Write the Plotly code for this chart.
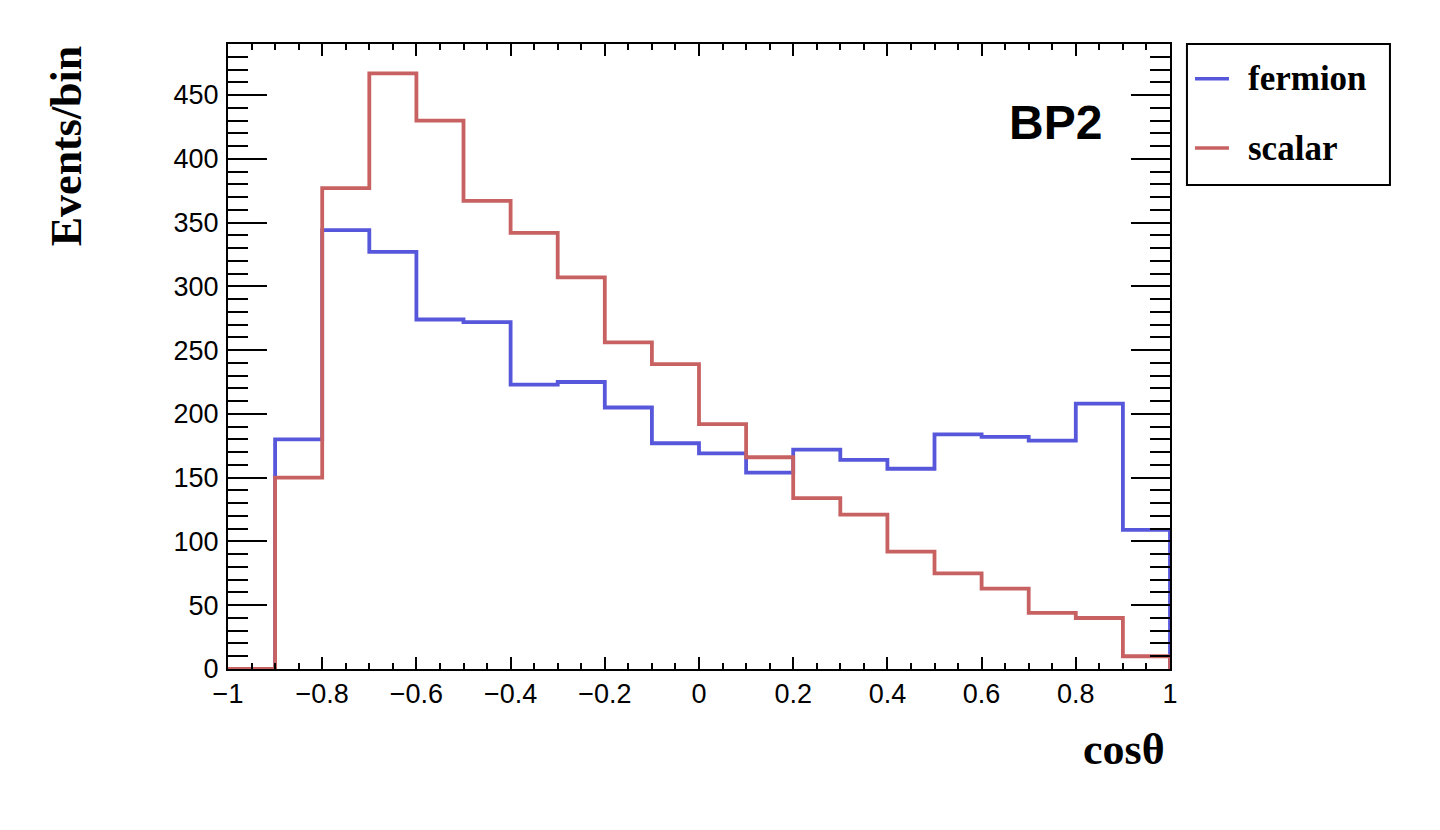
import plotly.graph_objects as go

bin_edges = [-1.0, -0.9, -0.8, -0.7, -0.6, -0.5, -0.4, -0.3, -0.2, -0.1, 0.0,
             0.1, 0.2, 0.3, 0.4, 0.5, 0.6, 0.7, 0.8, 0.9, 1.0]
fermion = [0, 180, 344, 327, 274, 272, 223, 225, 205, 177, 169,
           154, 172, 164, 157, 184, 182, 179, 208, 109]
scalar = [0, 150, 377, 467, 430, 367, 342, 307, 256, 239, 192,
          166, 134, 121, 92, 75, 63, 44, 40, 10]
series_names = ["fermion", "scalar"]
series_colors = ["#5757dc", "#c86262"]
label_text = "BP2"
x_title = "cosθ"
y_title = "Events/bin"


def step_outline(edges, vals):
    xs, ys = [edges[0]], [0]
    for i, v in enumerate(vals):
        xs += [edges[i], edges[i + 1]]
        ys += [v, v]
    xs.append(edges[-1])
    ys.append(0)
    return xs, ys


fig = go.Figure()
for name, vals, col in zip(series_names, [fermion, scalar], series_colors):
    xs, ys = step_outline(bin_edges, vals)
    fig.add_trace(go.Scatter(x=xs, y=ys, mode="lines", name=name,
                             line=dict(color=col, width=3.8),
                             showlegend=False, hoverinfo="skip"))

tick_font = dict(family="Liberation Sans, Arial, sans-serif", size=27, color="black")
serif_bold = "Liberation Serif, Times New Roman, serif"

fig.update_layout(
    width=1440, height=830,
    margin=dict(l=220, r=278, t=36, b=169),
    paper_bgcolor="white", plot_bgcolor="white",
    xaxis=dict(range=[-1, 1], dtick=0.2, tick0=-1, ticks="inside", ticklen=12,
               tickwidth=1.5, tickcolor="black", showline=True, linecolor="black",
               linewidth=2, mirror="allticks", showgrid=False, zeroline=False,
               tickfont=tick_font,
               minor=dict(dtick=0.05, ticks="inside", ticklen=6, tickwidth=1.5,
                          tickcolor="black", showgrid=False)),
    yaxis=dict(range=[0, 490], dtick=50, tick0=0, ticks="inside", ticklen=39,
               tickwidth=1.5, tickcolor="black", showline=True, linecolor="black",
               linewidth=2, mirror="allticks", showgrid=False, zeroline=False,
               tickfont=tick_font, ticklabelstandoff=2,
               minor=dict(dtick=10, ticks="inside", ticklen=20, tickwidth=1.5,
                          tickcolor="black", showgrid=False)),
)

# axis titles and label
fig.add_annotation(text=f"<b>{y_title}</b>", xref="paper", yref="paper",
                   x=-0.172, y=0.838, textangle=-90, showarrow=False,
                   font=dict(family=serif_bold, size=44, color="black"),
                   xanchor="center", yanchor="middle")
fig.add_annotation(text=f"<b>{x_title}</b>", xref="paper", yref="paper",
                   x=0.997, y=-0.128, showarrow=False,
                   font=dict(family=serif_bold, size=44, color="black"),
                   xanchor="right", yanchor="middle")
fig.add_annotation(text=f"<b>{label_text}</b>", xref="paper", yref="paper",
                   x=0.878, y=0.875, showarrow=False,
                   font=dict(family="Liberation Sans, Arial, sans-serif", size=48,
                             color="black"),
                   xanchor="center", yanchor="middle")

# manual legend
fig.add_shape(type="rect", xref="paper", yref="paper", x0=1.018, x1=1.2335,
              y0=0.7744, y1=1.0, line=dict(color="black", width=2),
              fillcolor="white")
leg_y = [0.9445, 0.8336]
for name, col, ly in zip(series_names, series_colors, leg_y):
    fig.add_shape(type="line", xref="paper", yref="paper", x0=1.0265, x1=1.0626,
                  y0=ly, y1=ly, line=dict(color=col, width=3.5))
    fig.add_annotation(text=f"<b>{name}</b>", xref="paper", yref="paper",
                       x=1.0807, y=ly, showarrow=False, xanchor="left",
                       yanchor="middle",
                       font=dict(family=serif_bold, size=35, color="black"))

fig.write_html("out.html")
